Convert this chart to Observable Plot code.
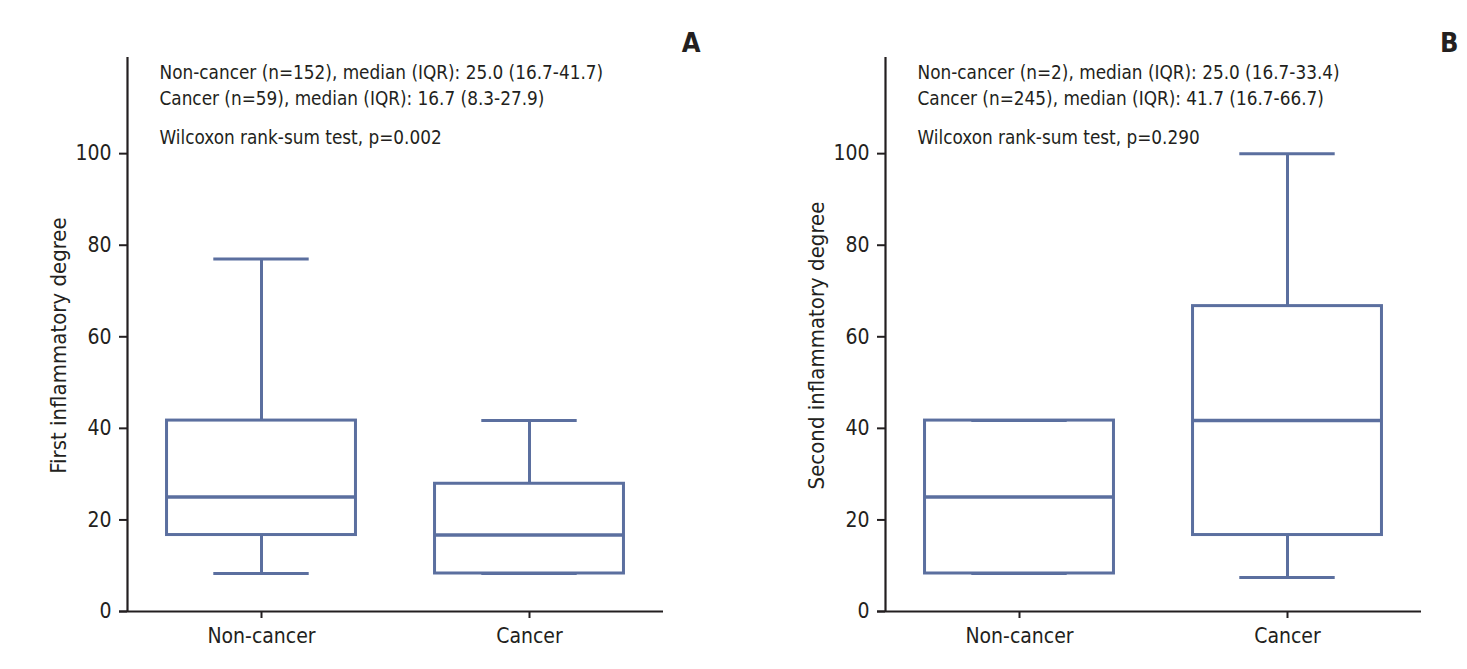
<!DOCTYPE html>
<html>
<head>
<meta charset="utf-8">
<script src="https://cdn.jsdelivr.net/npm/d3@7"></script>
<script src="https://cdn.jsdelivr.net/npm/@observablehq/plot@0.6"></script>
<style>
  html, body { margin: 0; padding: 0; background: #fff; }
  #wrap { display: flex; flex-direction: row; width: 1467px; height: 669px; overflow: hidden; }
</style>
</head>
<body>
<div id="wrap"></div>
<script>
// ---- data ----
const categories = ["Non-cancer", "Cancer"];
const yTicks = [0, 20, 40, 60, 80, 100];

// Panel A: first inflammatory degree
const aMin = [8.3, 8.3];
const aQ1 = [16.7, 8.3];
const aMedian = [25.0, 16.7];
const aQ3 = [41.7, 27.9];
const aMax = [77.0, 41.7];
const aLines = [
  "Non-cancer (n=152), median (IQR): 25.0 (16.7-41.7)",
  "Cancer (n=59), median (IQR): 16.7 (8.3-27.9)"
];
const aTest = "Wilcoxon rank-sum test, p=0.002";
const aLabel = "First inflammatory degree";
const aLetter = "A";

// Panel B: second inflammatory degree
const bMin = [8.3, 7.4];
const bQ1 = [8.3, 16.7];
const bMedian = [25.0, 41.7];
const bQ3 = [41.7, 66.7];
const bMax = [41.7, 100.0];
const bLines = [
  "Non-cancer (n=2), median (IQR): 25.0 (16.7-33.4)",
  "Cancer (n=245), median (IQR): 41.7 (16.7-66.7)"
];
const bTest = "Wilcoxon rank-sum test, p=0.290";
const bLabel = "Second inflammatory degree";
const bLetter = "B";

// ---- styles ----
const FONT = "'Liberation Sans Narrow', 'DejaVu Sans Condensed', 'Roboto', sans-serif";
const BOX = "#5b6f9f";
const INK = "#231f20";
const HALF_BOX = 0.3525;
const HALF_CAP = 0.178;

function panel({width, marginRight, mins, q1s, meds, q3s, maxs, lines, test, label, letter}) {
  const stats = categories.map((c, i) => ({
    cat: c, c: i + 0.5, min: mins[i], q1: q1s[i], med: meds[i], q3: q3s[i], max: maxs[i]
  }));
  return Plot.plot({
    width, height: 669,
    marginLeft: 127, marginRight, marginTop: 57, marginBottom: 58,
    style: {fontFamily: FONT, fontSize: "20px", color: INK, background: "white"},
    x: {type: "linear", domain: [0, categories.length], axis: null},
    y: {domain: [0, 121], axis: null},
    marks: [
      Plot.axisY({ticks: yTicks, tickSize: 8, tickPadding: 8, strokeWidth: 2, stroke: INK, label: null, fontSize: 21}),
      Plot.axisX({ticks: stats.map(d => d.c), tickFormat: v => categories[Math.floor(v)], tickSize: 7, tickPadding: 10, strokeWidth: 2, stroke: INK, label: null, fontSize: 21}),
      Plot.ruleX([0], {stroke: INK, strokeWidth: 2.2}),
      Plot.ruleY([0], {stroke: INK, strokeWidth: 2.2, insetLeft: -8}),
      // whiskers
      Plot.ruleX(stats, {x: "c", y1: "q3", y2: "max", stroke: BOX, strokeWidth: 3}),
      Plot.ruleX(stats, {x: "c", y1: "min", y2: "q1", stroke: BOX, strokeWidth: 3}),
      Plot.ruleY(stats, {y: "max", x1: d => d.c - HALF_CAP, x2: d => d.c + HALF_CAP, stroke: BOX, strokeWidth: 3}),
      Plot.ruleY(stats, {y: "min", x1: d => d.c - HALF_CAP, x2: d => d.c + HALF_CAP, stroke: BOX, strokeWidth: 3}),
      // boxes
      Plot.rect(stats, {x1: d => d.c - HALF_BOX, x2: d => d.c + HALF_BOX, y1: "q1", y2: "q3", fill: "none", stroke: BOX, strokeWidth: 3}),
      Plot.ruleY(stats, {y: "med", x1: d => d.c - HALF_BOX, x2: d => d.c + HALF_BOX, stroke: BOX, strokeWidth: 3.5}),
      // annotations
      Plot.text([lines.join("\n")], {text: d => d, frameAnchor: "top-left", dx: 32, dy: 2, lineHeight: 1.43, fontSize: 18.8, fill: INK}),
      Plot.text([test], {text: d => d, frameAnchor: "top-left", dx: 32, dy: 73, fontSize: 18.8, fill: INK}),
      Plot.text([letter], {text: d => d, frameAnchor: "top-right", textAnchor: "end", lineAnchor: "top", dx: 37, dy: -25, fontSize: 27, fontWeight: "bold", fill: INK}),
      Plot.text([label], {text: d => d, frameAnchor: "left", rotate: -90, textAnchor: "middle", lineAnchor: "middle", dx: -69, dy: 11, fontSize: 22, fill: INK})
    ]
  });
}

const wrap = document.getElementById("wrap");
wrap.append(panel({width: 758, marginRight: 95, mins: aMin, q1s: aQ1, meds: aMedian, q3s: aQ3, maxs: aMax, lines: aLines, test: aTest, label: aLabel, letter: aLetter}));
wrap.append(panel({width: 709, marginRight: 46, mins: bMin, q1s: bQ1, meds: bMedian, q3s: bQ3, maxs: bMax, lines: bLines, test: bTest, label: bLabel, letter: bLetter}));
</script>
</body>
</html>
